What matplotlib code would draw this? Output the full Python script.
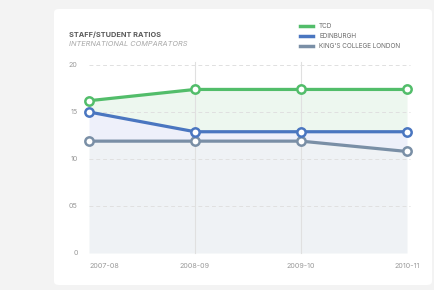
import matplotlib
matplotlib.use("Agg")
import matplotlib.pyplot as plt
from matplotlib.patches import FancyBboxPatch
import numpy as np

plt.rcParams['font.family'] = ['Inter', 'DejaVu Sans']

years = ["2007-08", "2008-09", "2009-10", "2010-11"]
tcd = [16.2, 17.4, 17.4, 17.4]
edinburgh = [15.0, 12.9, 12.9, 12.9]
kcl = [11.9, 11.9, 11.9, 10.8]
series_names = ["TCD", "EDINBURGH", "KING'S COLLEGE LONDON"]
yticks = [0, 5, 10, 15, 20]
ytick_labels = ["0", "05", "10", "15", "20"]

c_tcd = "#52bd6a"
c_edi = "#4a76c0"
c_kcl = "#7a8fa6"

W, H = 434, 290
fig = plt.figure(figsize=(W / 100, H / 100), dpi=100)
fig.patch.set_facecolor("#f3f3f3")

card = FancyBboxPatch((54 / W, 1 - 285 / H), (432 - 54) / W, (285 - 9) / H,
                      boxstyle="round,pad=0,rounding_size=0.012",
                      transform=fig.transFigure, facecolor="white",
                      edgecolor="none", zorder=-10)
fig.patches.append(card)

ax = fig.add_axes([89 / W, (H - 253) / H, (407 - 89) / W, (253 - 65) / H])
ax.set_facecolor("none")
ax.set_zorder(1)
x = np.arange(len(years))

# fills
ax.fill_between(x, tcd, edinburgh, color="#edf7ef", lw=0, zorder=1)
ax.fill_between(x, edinburgh, kcl, color="#eef0fa", lw=0, zorder=1)
ax.fill_between(x, kcl, 0, color="#eff2f5", lw=0, zorder=1)

# gridlines
for yv in yticks[1:]:
    ax.plot([-0.0, 3.03], [yv, yv], color="#e0e0e0", lw=0.7, ls=(0, (4, 3)),
            zorder=2, clip_on=False)
for xv in [1, 2]:
    ax.plot([xv, xv], [0, 20.3], color="#e0e0e0", lw=0.8, zorder=2, clip_on=False)

for vals, col in [(kcl, c_kcl), (edinburgh, c_edi), (tcd, c_tcd)]:
    ax.plot(x, vals, color=col, lw=2.3, zorder=3, solid_capstyle="round",
            marker="o", markersize=6, markerfacecolor="white",
            markeredgecolor=col, markeredgewidth=1.8, clip_on=False)

ax.set_xlim(0, 3)
ax.set_ylim(0, 20)
for s in ax.spines.values():
    s.set_visible(False)
ax.set_xticks([])
ax.set_yticks([])

# y tick labels
for yv, lab in zip(yticks, ytick_labels):
    ax.text(-0.105, yv, lab, ha="right", va="center", fontsize=5.2,
            color="#9a9a9a", transform=ax.transData)
# x tick labels
for i, lab in enumerate(years):
    ha = "left" if i == 0 else "center"
    ax.text(i, -1.35, lab, ha=ha, va="center", fontsize=5.2, color="#9a9a9a")

# title
fig.text(69 / W, 1 - 35 / H, "STAFF/STUDENT RATIOS", fontsize=5.3,
         fontweight="bold", color="#5a5a5a", va="center")
fig.text(69 / W, 1 - 43.5 / H, "INTERNATIONAL COMPARATORS", fontsize=5.3,
         style="italic", color="#a8a8a8", va="center")

# legend
for i, (name, col) in enumerate(zip(series_names, [c_tcd, c_edi, c_kcl])):
    yy = 1 - (26 + 10 * i) / H
    fig.add_artist(plt.Line2D([300 / W, 313 / W], [yy, yy], color=col, lw=2.5,
                              transform=fig.transFigure))
    fig.text(319 / W, yy, name, fontsize=4.6, color="#6a6a6a", va="center")

fig.savefig("out.png", dpi=100, facecolor=fig.get_facecolor())
